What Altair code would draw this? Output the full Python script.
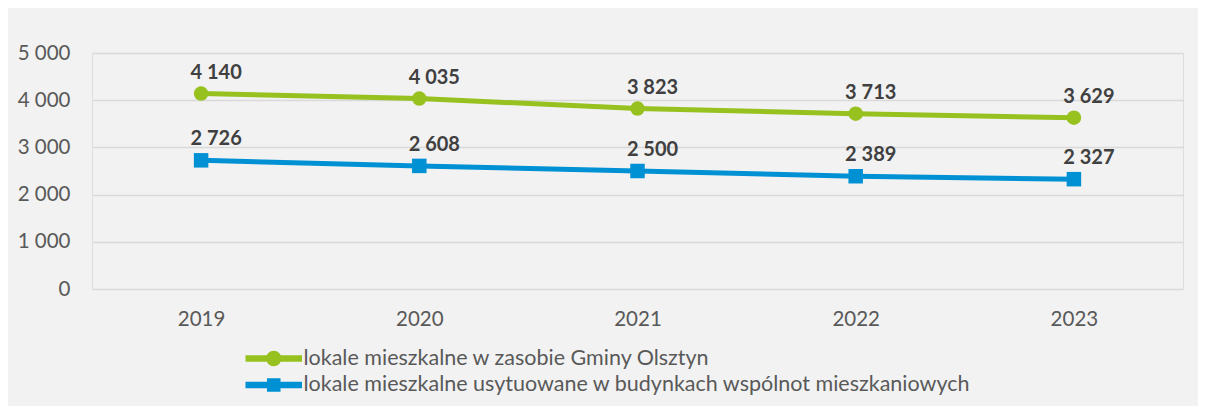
import altair as alt
import pandas as pd

years = ["2019", "2020", "2021", "2022", "2023"]
series_names = [
    "lokale mieszkalne w zasobie Gminy Olsztyn",
    "lokale mieszkalne usytuowane w budynkach wspólnot mieszkaniowych",
]
gmina = [4140, 4035, 3823, 3713, 3629]
wspolnoty = [2726, 2608, 2500, 2389, 2327]
colors = ["#97C11F", "#0091D4"]
marker_shapes = ["circle", "square"]

# legend glyphs: line segment with marker (custom symbol paths)
legend_paths = [
    "M-3.93,-0.36H3.93V0.36H-3.93Z M1,0A1,1 0 1,1 -1,0A1,1 0 1,1 1,0Z",
    "M-3.93,-0.36H3.93V0.36H-3.93Z M-0.86,-0.86H0.86V0.86H-0.86Z",
]

rows = []
for name, vals, shp in zip(series_names, [gmina, wspolnoty], marker_shapes):
    for y, v in zip(years, vals):
        rows.append({"rok": y, "seria": name, "wartosc": v, "ksztalt": shp})
df = pd.DataFrame(rows)

FONT = "Lato"
FS = 20.5

x = alt.X(
    "rok:O",
    scale=alt.Scale(type="point", padding=0.5),
    axis=alt.Axis(
        title=None, labelAngle=0, ticks=False, domain=False, grid=False,
        labelFontSize=FS, labelColor="#595959", labelPadding=20, labelFont=FONT,
    ),
)
y = alt.Y(
    "wartosc:Q",
    scale=alt.Scale(domain=[0, 5000]),
    axis=alt.Axis(
        title=None, values=[0, 1000, 2000, 3000, 4000, 5000], format=",.0f",
        ticks=False, domain=False, gridColor="#D9D9D9", gridWidth=1.5,
        labelFontSize=FS, labelColor="#595959", labelPadding=22, labelFont=FONT,
    ),
)
color_scale = alt.Scale(domain=series_names, range=colors)

base = alt.Chart(df)

legend_layer = base.mark_point(filled=True, opacity=1).encode(
    x=x,
    y=y,
    color=alt.Color(
        "seria:N",
        scale=color_scale,
        legend=alt.Legend(
            title=None, orient="none", legendX=171, legendY=294.75, direction="vertical",
            labelFontSize=21.5, labelColor="#595959", labelFont=FONT, labelOffset=19,
            symbolSize=196, rowPadding=3.5, symbolOpacity=1, padding=0, labelLimit=900,
        ),
    ),
    shape=alt.Shape(
        "seria:N",
        scale=alt.Scale(domain=series_names, range=legend_paths),
    ),
).transform_filter("false")

lines = base.mark_line(strokeWidth=5).encode(
    x=x, y=y,
    color=alt.Color("seria:N", scale=color_scale, legend=None),
)

points = base.mark_point(filled=True, opacity=1, size=210).encode(
    x=x, y=y,
    color=alt.Color("seria:N", scale=color_scale, legend=None),
    shape=alt.Shape("ksztalt:N", scale=None),
)

labels = base.mark_text(
    fontSize=20, fontWeight="bold", color="#404040", dx=15, dy=-21, font=FONT,
).encode(
    x=x, y=y,
    text=alt.Text("wartosc:Q", format=",.0f"),
)

chart = alt.layer(legend_layer, lines, points, labels).properties(
    width=1091,
    height=236,
    autosize=alt.AutoSizeParams(type="none"),
    padding={"left": 84, "top": 45, "right": 15, "bottom": 117},
    background="#F2F2F2",
).configure_view(stroke=None).configure(
    locale=alt.Locale(
        number=alt.NumberLocale(decimal=",", thousands=" ", grouping=[3], currency=["", " zł"])
    )
)

chart.save("out.html", embed_options={"renderer": "svg", "actions": False})
